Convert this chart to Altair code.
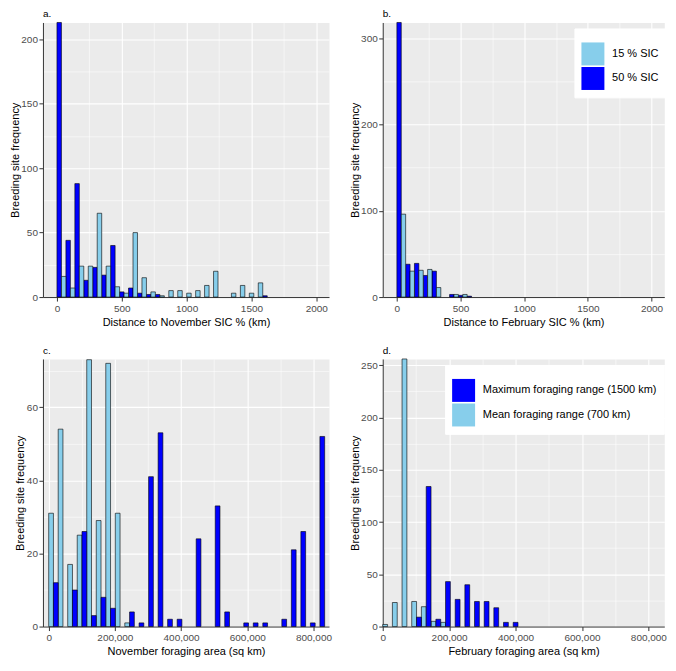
import altair as alt
import pandas as pd

LIGHT = "#87CEEB"
DARK = "#0000FF"
FONT = "Liberation Sans"

# ---- data (counts per histogram bin, bins start at 0) ----
# a. distance to November SIC (km)
nov_dist_bin = 69
nov_dist_50 = [213, 44, 88, 13, 23, 17, 40, 4, 7, 3, 2, 2, 0, 0, 0, 0, 0, 0, 0, 0, 0, 0, 0, 1]
nov_dist_15 = [16, 7, 24, 24, 65, 24, 8, 3, 50, 15, 4, 1, 5, 5, 3, 5, 9, 20, 0, 3, 9, 3, 11, 0]
# b. distance to February SIC (km)
feb_dist_bin = 69
feb_dist_50 = [318, 38, 39, 25, 30, 0, 3, 2, 1]
feb_dist_15 = [96, 30, 31, 32, 11, 0, 3, 3, 0]
# c. November foraging area (sq km)
nov_area_bin = 28750
nov_area_mean = [31, 54, 17, 25, 73, 29, 72, 31, 1]
nov_area_max = [12, 0, 10, 26, 3, 8, 5, 0, 4, 1, 41, 53, 2, 2, 0, 24, 0, 33, 4, 0,
                1, 1, 1, 0, 2, 21, 26, 1, 52]
# d. February foraging area (sq km)
feb_area_bin = 29100
feb_area_mean = [2, 23, 256, 24, 19, 5, 4]
feb_area_max = [0, 0, 0, 9, 134, 7, 43, 26, 40, 24, 24, 18, 4, 4]

sic_labels = ["15 % SIC", "50 % SIC"]
range_labels = ["Maximum foraging range (1500 km)", "Mean foraging range (700 km)"]


def dodge_table(left_counts, left_name, right_counts, right_name, w):
    rows = []
    for side, (counts, name) in enumerate([(left_counts, left_name), (right_counts, right_name)]):
        for i, c in enumerate(counts):
            if c > 0:
                x0 = (i + 0.5 * side) * w
                rows.append({"series": name, "count": c, "x0": x0, "x1": x0 + w / 2})
    return pd.DataFrame(rows)


def cond(major, big, small):
    return {"condition": {"test": f"datum.value % {major} === 0", "value": big}, "value": small}


def panel(df, letter, xtitle, xdom, xmajor, xticks, ydom, ymajor, yticks,
          cdomain, crange, legend, width, height, xfmt):
    xaxis = alt.Axis(
        values=xticks, title=xtitle, labelFlush=False, labelOverlap=False,
        labelExpr=f"datum.value % {xmajor} === 0 ? format(datum.value, '{xfmt}') : ''",
        gridWidth=cond(xmajor, 1.1, 0.55), tickOpacity=cond(xmajor, 1, 0),
        titlePadding=3, labelPadding=2,
    )
    yaxis = alt.Axis(
        values=yticks, title="Breeding site frequency", labelOverlap=False, labelFlush=False,
        labelExpr=f"datum.value % {ymajor} === 0 ? format(datum.value, 'd') : ''",
        gridWidth=cond(ymajor, 1.1, 0.55), tickOpacity=cond(ymajor, 1, 0),
        titlePadding=0.5, labelPadding=1.5,
    )
    return alt.Chart(df).mark_bar(stroke="black", strokeWidth=0.6).encode(
        x=alt.X("x0:Q", scale=alt.Scale(domain=xdom, nice=False, zero=False, padding=0), axis=xaxis),
        x2="x1:Q",
        y=alt.Y("count:Q", scale=alt.Scale(domain=ydom, nice=False, padding=0), axis=yaxis),
        y2=alt.datum(0),
        color=alt.Color("series:N", scale=alt.Scale(domain=cdomain, range=crange), legend=legend),
    ).properties(
        width=width, height=height,
        title=alt.TitleParams(letter, anchor="start", frame="group", fontSize=10,
                              fontWeight="normal", offset=3, color="black", font=FONT),
    )


def leg(x, y):
    return alt.Legend(orient="none", legendX=x, legendY=y, title=" ", titleFontSize=7,
                      titlePadding=0, padding=7, fillColor="white", strokeColor="white",
                      symbolType="square", symbolSize=529, symbolStrokeWidth=0,
                      labelFontSize=11, labelOffset=7.7, rowPadding=1.6, labelColor="black",
                      labelFont=FONT, labelLimit=400)


dist_ticks = [v * 250 for v in range(0, 9)]
area_ticks = [v * 100000 for v in range(0, 9)]

W1 = 286.5
W2 = 282
H1 = 275
H2 = 268

pa = panel(dodge_table(nov_dist_50, sic_labels[1], nov_dist_15, sic_labels[0], nov_dist_bin),
           "a.", "Distance to November SIC % (km)", [-108, 2098], 500, dist_ticks,
           [0, 213], 50, [v * 25 for v in range(0, 9)],
           sic_labels, [LIGHT, DARK], None, W1, H1, "d")
pb = panel(dodge_table(feb_dist_50, sic_labels[1], feb_dist_15, sic_labels[0], feb_dist_bin),
           "b.", "Distance to February SIC % (km)", [-111, 2100], 500, dist_ticks,
           [0, 318], 100, [v * 50 for v in range(0, 7)],
           sic_labels, [LIGHT, DARK], leg(192, 6), W2, H1, "d")
pc = panel(dodge_table(nov_area_mean, range_labels[1], nov_area_max, range_labels[0], nov_area_bin),
           "c.", "November foraging area (sq km)", [-17300, 846900], 200000, area_ticks,
           [0, 73.2], 20, [v * 10 for v in range(0, 8)],
           range_labels, [DARK, LIGHT], None, W1, H2, ",")
pd_ = panel(dodge_table(feb_area_mean, range_labels[1], feb_area_max, range_labels[0], feb_area_bin),
            "d.", "February foraging area (sq km)", [0, 848000], 200000, area_ticks,
            [0, 256], 50, [v * 25 for v in range(0, 11)],
            range_labels, [DARK, LIGHT], leg(62.5, 6), W2, H2, ",")

chart = alt.concat(pa, pb, pc, pd_, columns=2, spacing={"row": 17, "column": 15.3}).resolve_scale(
    color="independent"
).properties(
    padding=0
).configure(font=FONT, background="white").configure_view(
    fill="#EBEBEB", stroke="transparent"
).configure_axis(
    domainColor="#333333", domainWidth=1, tickColor="#333333", tickSize=4, tickWidth=1,
    labelColor="#4D4D4D", labelFontSize=10, labelFont=FONT,
    titleColor="black", titleFontSize=11, titleFontWeight="normal", titleFont=FONT,
    gridColor="white",
)

chart.save("out.html", embed_options={"renderer": "svg", "actions": False})
